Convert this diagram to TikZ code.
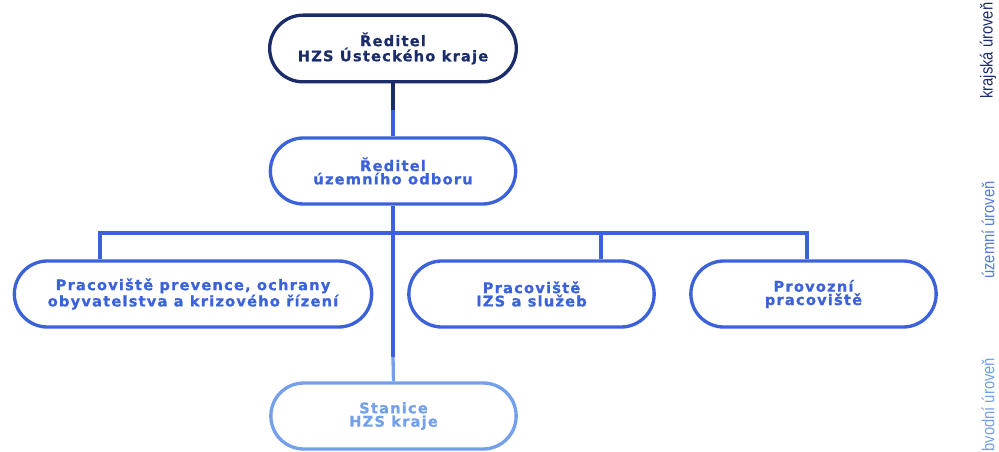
\documentclass[tikz,border=0pt]{standalone}
\usepackage{fontspec}
\setmainfont{DejaVu Sans}
\newfontfamily\boxfont[LetterSpace=8,FakeBold=0.8]{DejaVu Sans}
\newfontfamily\levelfont[FakeStretch=0.85]{Liberation Sans}
\usetikzlibrary{positioning,shapes.misc}
\definecolor{navy}{HTML}{1B2C6B}
\definecolor{midblue}{HTML}{3B62D8}
\definecolor{lightblue}{HTML}{74A0EA}

\begin{document}
\begin{tikzpicture}[x=0.75pt,y=-0.75pt,
  every node/.style={rounded rectangle,draw,line width=2.5pt,inner sep=0pt,minimum height=49.5pt,minimum width=184pt,align=center,font=\boxfont\bfseries\fontsize{11}{10}\selectfont},
  link/.style={line width=2.5pt},
  level node/.style={rectangle,draw=none,rotate=90,inner sep=0pt,minimum width=0pt,minimum height=0pt,font=\levelfont\fontsize{13}{14}\selectfont},
  ]
  \useasboundingbox (0,0) rectangle (999,452);
  \node[draw=navy,text=navy,minimum height=50pt,minimum width=185pt](HZS) at (393,48.5){Ředitel\\HZS Ústeckého kraje};
  \node[draw=midblue,text=midblue](UO) at (393,171){Ředitel\\územního odboru};
  \node[draw=midblue,text=midblue,minimum width=268pt](PPO) at (193,294){Pracoviště prevence, ochrany\\obyvatelstva a krizového řízení};
  \node[draw=midblue,text=midblue](IZS) at (531.5,294){Pracoviště\\IZS a služeb};
  \node[draw=midblue,text=midblue](PP) at (813.5,294){Provozní\\pracoviště};
  \node[draw=lightblue,text=lightblue](STA) at (393.5,416){Stanice\\HZS kraje};
  % levels
  \node[level node,text=navy,anchor=east](KU) at (988,1){krajská úroveň};
  \node[level node,text=midblue!85!white](UU) at (988,230){územní úroveň};
  \node[level node,text=lightblue,anchor=west](OU) at (988,453){bvodní úroveň};
  % connectors
  \coordinate(top split) at (393,110);
  \coordinate(bus) at (393,233);
  \coordinate(busL) at (100,233);
  \coordinate(busM) at (601,233);
  \coordinate(busR) at (807,233);
  \coordinate(low split) at (393,357);
  \draw[link,navy] (HZS.south) -- (top split);
  \draw[link,midblue] (top split) -- (UO.north);
  \draw[link,midblue] (UO.south) -- (bus);
  \draw[link,midblue] (busL |- PPO.north) -- (busL) -- (busR) -- (busR |- PP.north);
  \draw[link,midblue] (busM) -- (busM |- IZS.north);
  \draw[link,midblue] (bus) -- (low split);
  \draw[link,lightblue] (low split) -- (STA.north);
\end{tikzpicture}
\end{document}
